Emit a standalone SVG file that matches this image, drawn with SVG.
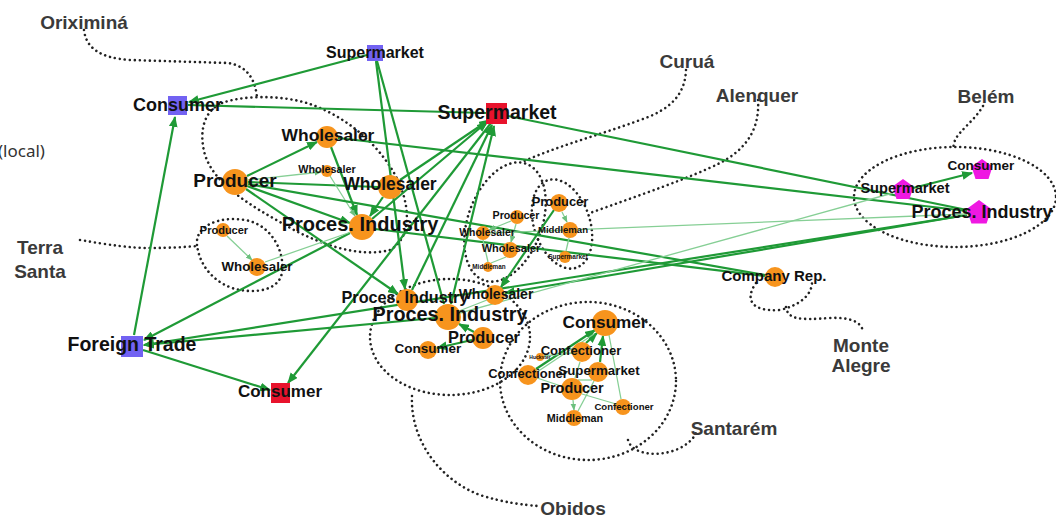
<svg xmlns="http://www.w3.org/2000/svg" width="1056" height="517" viewBox="0 0 1056 517">
<defs>
<style>
.bd{fill:none;stroke:#222;stroke-width:2.6;stroke-dasharray:0.01 5;stroke-linecap:round}
.e{fill:none;stroke:#1f9a36;stroke-width:2.2;marker-end:url(#a)}
.e0{fill:none;stroke:#1f9a36;stroke-width:2.2}
.l{fill:none;stroke:#86cf95;stroke-width:1.3;marker-end:url(#al)}
.l0{fill:none;stroke:#86cf95;stroke-width:1.3}
.o{fill:#f7941d}
.bl{fill:#7262f2}
.rd{fill:#e8132d}
.mg{fill:#ef18e2}
.t{font-family:"Liberation Sans",Arial,sans-serif;font-weight:bold;fill:#111;text-anchor:middle}
.r{font-family:"Liberation Sans",Arial,sans-serif;font-weight:bold;font-size:19px;fill:#3a3a3a;text-anchor:middle}
</style>
<marker id="a" viewBox="0 0 10 8" markerWidth="11" markerHeight="9" refX="9" refY="4" orient="auto" markerUnits="userSpaceOnUse"><path d="M0,0 L10,4 L0,8 z" fill="#1f9a36"/></marker>
<marker id="al" viewBox="0 0 10 8" markerWidth="7" markerHeight="6" refX="9" refY="4" orient="auto" markerUnits="userSpaceOnUse"><path d="M0,0 L10,4 L0,8 z" fill="#6cc07e"/></marker>
</defs>
<rect width="1056" height="517" fill="#fff"/>

<g id="boundaries">
<path class="bd" d="M84,30 C86,48 100,58 130,60 L228,63 C248,66 255,80 257,97"/>
<path class="bd" d="M222,103 C240,96 280,94 310,104 C350,118 385,150 400,185 C412,215 408,240 390,250 C360,258 320,245 285,225 C250,205 215,185 205,155 C198,130 205,110 222,103 Z"/>
<path class="bd" d="M80,240 C110,245 130,248 150,248 C170,248 185,247 197,246"/>
<path class="bd" d="M197,245 C195,225 220,216 245,220 C270,224 285,250 282,272 C280,290 255,295 232,288 C210,280 199,262 197,245 Z"/>
<ellipse class="bd" cx="450" cy="337" rx="80" ry="58"/>
<path class="bd" d="M412,396 C410,440 440,480 480,495 C505,503 525,505 538,506"/>
<path class="bd" d="M686,70 C685,95 670,110 640,120 C600,135 560,145 522,162"/>
<ellipse class="bd" cx="505" cy="222" rx="37" ry="62" transform="rotate(20 505 222)"/>
<ellipse class="bd" cx="562" cy="224" rx="28" ry="46" transform="rotate(-18 562 224)"/>
<path class="bd" d="M758,100 C760,130 745,150 720,163 C690,178 640,195 590,213"/>
<ellipse class="bd" cx="955" cy="197" rx="101" ry="50"/>
<path class="bd" d="M983,106 C975,120 960,130 955,140 L953,148"/>
<path class="bd" d="M756,283 C744,300 752,312 780,310 C800,305 812,295 812,282"/>
<path class="bd" d="M786,307 C788,320 800,320 830,318 C850,317 862,322 863,332"/>
<ellipse class="bd" cx="588" cy="381" rx="88" ry="79"/>
<path class="bd" d="M628,440 C632,455 660,458 680,448 C688,444 694,438 696,433"/>
</g>

<g id="connectors">
<line class="e" x1="367" y1="55" x2="189" y2="102"/>
<line class="e0" x1="486" y1="113" x2="188" y2="105"/>
<line class="e" x1="134" y1="335" x2="175" y2="117"/>
<line class="e" x1="247" y1="176" x2="317" y2="142"/>
<line class="l" x1="248" y1="180" x2="321" y2="172"/>
<line class="e0" x1="248" y1="182" x2="378" y2="187"/>
<line class="e" x1="247" y1="186" x2="350" y2="223"/>
<line class="e" x1="331" y1="147" x2="357" y2="215"/>
<line class="l" x1="330" y1="176" x2="355" y2="216"/>
<line class="e" x1="383" y1="197" x2="370" y2="216"/>
<line class="e0" x1="338" y1="138" x2="967" y2="211"/>
<line class="e0" x1="508" y1="116" x2="967" y2="210"/>
<line class="e" x1="372" y1="219" x2="487" y2="122"/>
<line class="e" x1="400" y1="180" x2="489" y2="120"/>
<line class="e" x1="412" y1="290" x2="492" y2="125"/>
<line class="e" x1="451" y1="304" x2="494" y2="126"/>
<line class="e" x1="491" y1="123" x2="288" y2="383"/>
<line class="e" x1="143" y1="350" x2="270" y2="390"/>
<line class="e" x1="350" y1="233" x2="144" y2="340"/>
<line class="e" x1="246" y1="189" x2="398" y2="294"/>
<line class="e" x1="376" y1="61" x2="405" y2="289"/>
<line class="e0" x1="377" y1="61" x2="444" y2="304"/>
<line class="e0" x1="248" y1="184" x2="765" y2="275"/>
<line class="e0" x1="375" y1="229" x2="765" y2="276"/>
<line class="e" x1="967" y1="215" x2="144" y2="345"/>
<line class="e" x1="967" y1="215" x2="505" y2="293"/>
<line class="e" x1="435" y1="318" x2="144" y2="345"/>
<line class="e" x1="913" y1="188" x2="972" y2="173"/>
<line class="l0" x1="893" y1="193" x2="460" y2="313"/>
<line class="l0" x1="490" y1="233" x2="967" y2="214"/>
<line class="e" x1="554" y1="210" x2="501" y2="287"/>
<line class="l" x1="511" y1="221" x2="489" y2="230"/>
<line class="l" x1="516" y1="224" x2="511" y2="242"/>
<line class="l0" x1="506" y1="257" x2="491" y2="263"/>
<line class="l0" x1="483" y1="240" x2="488" y2="262"/>
<line class="l" x1="562" y1="212" x2="567" y2="222"/>
<line class="l0" x1="569" y1="238" x2="566" y2="251"/>
<line class="l" x1="227" y1="236" x2="252" y2="260"/>
<line class="l0" x1="265" y1="262" x2="351" y2="232"/>
<line class="e" x1="474" y1="332" x2="459" y2="324"/>
<line class="e" x1="472" y1="340" x2="437" y2="348"/>
<line class="l0" x1="487" y1="300" x2="459" y2="311"/>
<line class="e" x1="586" y1="343" x2="597" y2="333"/>
<line class="e" x1="536" y1="369" x2="595" y2="330"/>
<line class="l0" x1="537" y1="372" x2="594" y2="334"/>
<line class="e" x1="600" y1="362" x2="603" y2="336"/>
<line class="l0" x1="575" y1="378" x2="580" y2="362"/>
<line class="l" x1="573" y1="400" x2="574" y2="410"/>
<line class="l0" x1="582" y1="394" x2="616" y2="404"/>
<line class="l0" x1="621" y1="399" x2="609" y2="335"/>
<line class="l0" x1="578" y1="380" x2="592" y2="380"/>
<line class="l0" x1="537" y1="378" x2="561" y2="386"/>
<line class="l0" x1="578" y1="411" x2="594" y2="381"/>
<line class="l0" x1="544" y1="356" x2="572" y2="353"/>
</g>

<g id="n-consumer-ori"><rect class="bl" x="168" y="96" width="19" height="19"/><text class="t" x="177.5" y="111" font-size="18">Consumer</text></g>
<g id="n-supermarket-ori"><rect class="bl" x="367" y="45" width="16" height="16"/><text class="t" x="375" y="58" font-size="16">Supermarket</text></g>
<g id="n-supermarket-red"><rect class="rd" x="486" y="103" width="21" height="21"/><text class="t" x="497" y="119" font-size="19.5">Supermarket</text></g>
<g id="n-wholesaler-top"><circle class="o" cx="327" cy="137" r="11"/><text class="t" x="328" y="141" font-size="17.4">Wholesaler</text></g>
<g id="n-wholesaler-small"><circle class="o" cx="327" cy="171" r="6"/><text class="t" x="327" y="173" font-size="10.8">Wholesaler</text></g>
<g id="n-producer-ori"><circle class="o" cx="235" cy="182" r="13"/><text class="t" x="235" y="187" font-size="19">Producer</text></g>
<g id="n-wholesaler-right"><circle class="o" cx="390" cy="187" r="12"/><text class="t" x="390" y="190" font-size="17.5">Wholesaler</text></g>
<g id="n-procind-ori"><circle class="o" cx="362" cy="227" r="13"/><text class="t" x="360" y="231" font-size="20">Proces. Industry</text></g>
<g id="n-producer-ts"><circle class="o" cx="223" cy="230" r="7"/><text class="t" x="224" y="234" font-size="11">Producer</text></g>
<g id="n-wholesaler-ts"><circle class="o" cx="257" cy="267" r="9"/><text class="t" x="257" y="271" font-size="13.3">Wholesaler</text></g>
<g id="n-foreign-trade"><rect class="bl" x="121" y="336" width="22" height="21"/><text class="t" x="132" y="351" font-size="19.5">Foreign Trade</text></g>
<g id="n-consumer-red"><rect class="rd" x="271" y="383" width="19" height="20"/><text class="t" x="280" y="397" font-size="17">Consumer</text></g>
<g id="n-procind-ob-small"><circle class="o" cx="407" cy="300" r="11"/><text class="t" x="405" y="303" font-size="16.2">Proces. Industry</text></g>
<g id="n-procind-ob"><circle class="o" cx="448" cy="317" r="13"/><text class="t" x="450" y="321" font-size="19.8">Proces. Industry</text></g>
<g id="n-wholesaler-ob"><circle class="o" cx="495" cy="295" r="10"/><text class="t" x="496" y="299" font-size="14">Wholesaler</text></g>
<g id="n-producer-ob"><circle class="o" cx="483" cy="338" r="11"/><text class="t" x="484" y="343" font-size="16.4">Producer</text></g>
<g id="n-consumer-ob"><circle class="o" cx="428" cy="350" r="9"/><text class="t" x="428" y="353" font-size="13.5">Consumer</text></g>
<g id="n-producer-cu"><circle class="o" cx="517" cy="217" r="7"/><text class="t" x="516" y="219" font-size="10.7">Producer</text></g>
<g id="n-wholesaler-cu1"><circle class="o" cx="483" cy="233" r="7"/><text class="t" x="487" y="236" font-size="10.4">Wholesaler</text></g>
<g id="n-wholesaler-cu2"><circle class="o" cx="510" cy="250" r="8"/><text class="t" x="511" y="252" font-size="11">Wholesaler</text></g>
<g id="n-middleman-cu"><circle class="o" cx="488" cy="267" r="5"/><text class="t" x="489" y="269" font-size="6.4">Middleman</text></g>
<g id="n-producer-al"><circle class="o" cx="559" cy="203" r="9"/><text class="t" x="560" y="206" font-size="12.9">Producer</text></g>
<g id="n-middleman-al"><circle class="o" cx="570" cy="230" r="8"/><text class="t" x="563" y="233" font-size="9.6">Middleman</text></g>
<g id="n-supermarket-al"><circle class="o" cx="565" cy="257" r="6"/><text class="t" x="568" y="259" font-size="6.5">Supermarket</text></g>
<g id="n-company-rep"><circle class="o" cx="775" cy="277" r="10"/><text class="t" x="774" y="281" font-size="15">Company Rep.</text></g>
<g id="n-consumer-sa"><circle class="o" cx="605" cy="323" r="13"/><text class="t" x="605" y="328" font-size="17.2">Consumer</text></g>
<g id="n-confectioner-sa1"><circle class="o" cx="582" cy="352" r="10"/><text class="t" x="581" y="355" font-size="13.1">Confectioner</text></g>
<g id="n-huckster-sa"><circle class="o" cx="540" cy="357" r="4"/><text class="t" x="540" y="359" font-size="5">Huckster</text></g>
<g id="n-confectioner-sa2"><circle class="o" cx="528" cy="375" r="10"/><text class="t" x="528" y="378" font-size="12.9">Confectioner</text></g>
<g id="n-supermarket-sa"><circle class="o" cx="598" cy="372" r="10"/><text class="t" x="599" y="375" font-size="13.3">Supermarket</text></g>
<g id="n-producer-sa"><circle class="o" cx="572" cy="389" r="11"/><text class="t" x="572" y="393" font-size="14.4">Producer</text></g>
<g id="n-confectioner-sa3"><circle class="o" cx="623" cy="407" r="8"/><text class="t" x="624" y="410" font-size="9.6">Confectioner</text></g>
<g id="n-middleman-sa"><circle class="o" cx="574" cy="418" r="8"/><text class="t" x="575" y="422" font-size="10.8">Middleman</text></g>
<g id="n-consumer-be"><polygon class="mg" points="982,159 992.5,166.6 988.5,178.9 975.5,178.9 971.5,166.6"/><text class="t" x="981" y="170" font-size="13.5">Consumer</text></g>
<g id="n-supermarket-be"><polygon class="mg" points="903,179 913.5,186.6 909.5,198.9 896.5,198.9 892.5,186.6"/><text class="t" x="905" y="193" font-size="14.6">Supermarket</text></g>
<g id="n-procind-be"><polygon class="mg" points="979,200 991.4,209 986.6,223.5 971.4,223.5 966.6,209"/><text class="t" x="982" y="218" font-size="18">Proces. Industry</text></g>

<g id="regions">
<text class="r" x="84" y="29">Oriximiná</text>
<text x="-2" y="157" font-family="'Noto Sans',sans-serif" font-size="17" fill="#333">(local)</text>
<text class="r" x="40" y="254">Terra</text>
<text class="r" x="40" y="278">Santa</text>
<text class="r" x="687" y="68">Curuá</text>
<text class="r" x="757" y="102">Alenquer</text>
<text class="r" x="986" y="103">Belém</text>
<text class="r" x="861" y="352">Monte</text>
<text class="r" x="861" y="372">Alegre</text>
<text class="r" x="734" y="435">Santarém</text>
<text class="r" x="573" y="515">Obidos</text>
</g>
</svg>
